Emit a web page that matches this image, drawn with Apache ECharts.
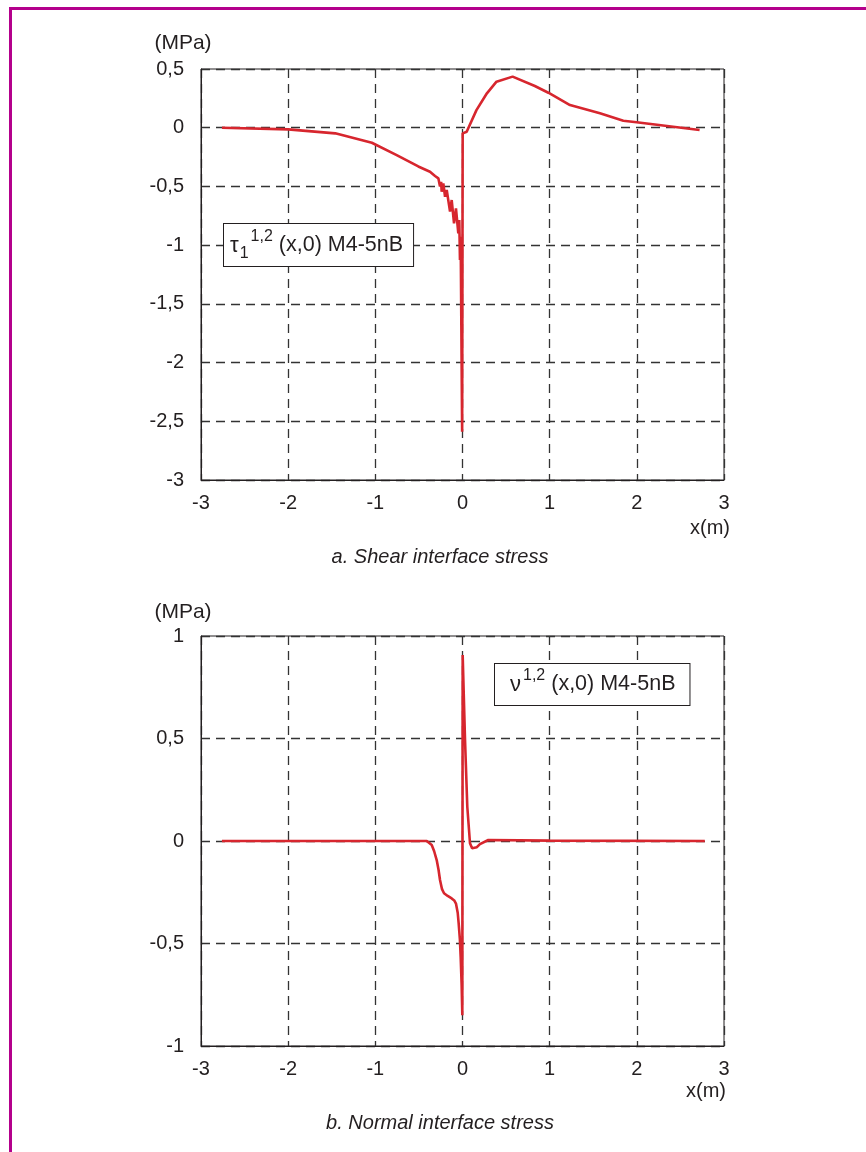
<!DOCTYPE html>
<html>
<head>
<meta charset="utf-8">
<script src="https://cdn.jsdelivr.net/npm/echarts@6/dist/echarts.min.js"></script>
<style>
  html, body { margin: 0; padding: 0; background: #fff; }
  #chart { width: 866px; height: 1152px; }
</style>
</head>
<body>
<div id="chart"></div>
<script>
// Shear interface stress tau_1^{1,2}(x,0), MPa, along x (m)
const shearX = [-2.76, -2.0, -1.46, -1.04, -0.755, -0.507, -0.373, -0.315, -0.277, -0.258, -0.245, -0.239,
  -0.22, -0.2, -0.181, -0.143, -0.124, -0.097, -0.075, -0.048, -0.037, -0.029, -0.021, -0.004,
  0.002, 0.048, 0.16, 0.28, 0.39, 0.575, 0.83, 0.985, 1.233, 1.577, 1.845, 1.997, 2.72];
const shearY = [0.0, -0.014, -0.048, -0.128, -0.233, -0.33, -0.375, -0.411, -0.431, -0.5, -0.46, -0.545,
  -0.474, -0.588, -0.531, -0.715, -0.616, -0.815, -0.687, -0.9, -0.786, -1.127, -0.928, -2.59,
  -0.048, -0.034, 0.15, 0.293, 0.392, 0.435, 0.355, 0.298, 0.193, 0.123, 0.06, 0.046, -0.02];

// Normal interface stress nu^{1,2}(x,0), MPa, along x (m)
const normalX = [-2.76, -0.41, -0.353, -0.325, -0.296, -0.275, -0.258, -0.235, -0.212, -0.17, -0.124,
  -0.095, -0.075, -0.055, -0.044, -0.03, -0.021, -0.01, -0.002, 0.002, 0.029, 0.055, 0.086,
  0.11, 0.132, 0.165, 0.2, 0.296, 1.0, 2.78];
const normalY = [0.0, 0.0, -0.02, -0.05, -0.093, -0.14, -0.19, -0.235, -0.255, -0.268, -0.28,
  -0.29, -0.305, -0.35, -0.402, -0.48, -0.565, -0.7, -0.85, 0.907, 0.493, 0.167, -0.011,
  -0.035, -0.044, -0.03, -0.015, 0.005, 0.002, 0.0];

const xTicks = [-3, -2, -1, 0, 1, 2, 3];

const INK = '#231f20';
const RED = '#d7262e';
const FONT = '"Liberation Sans", Arial, Helvetica, sans-serif';

const pairs = (xs, ys) => xs.map((x, i) => [x, ys[i]]);
const fmt = v => String(v).replace('.', ',');
const GRIDLINE = { color: '#333', width: 1.3, type: [9, 6] };

function xAxis(gridIndex) {
  return {
    type: 'value', gridIndex, min: xTicks[0], max: xTicks[xTicks.length - 1], interval: 1,
    axisLine: { show: true, onZero: false, lineStyle: { color: INK, width: 1 } },
    axisTick: { show: false },
    axisLabel: { color: INK, fontSize: 20, fontFamily: FONT, margin: 13, formatter: fmt },
    splitLine: { show: true, lineStyle: GRIDLINE }
  };
}
function yAxis(gridIndex, min, max) {
  return {
    type: 'value', gridIndex, min, max, interval: 0.5,
    axisLine: { show: true, onZero: false, lineStyle: { color: INK, width: 1 } },
    axisTick: { show: false },
    axisLabel: { color: INK, fontSize: 20, fontFamily: FONT, margin: 17, formatter: fmt },
    splitLine: { show: true, lineStyle: GRIDLINE }
  };
}
function label(x, y, text, extra) {
  return {
    type: 'text', x, y,
    style: Object.assign({ text, fill: INK, font: '21px ' + FONT, align: 'center', verticalAlign: 'middle' }, extra || {})
  };
}

const chart = echarts.init(document.getElementById('chart'), null, { renderer: 'canvas' });
chart.setOption({
  backgroundColor: '#fff',
  animation: false,
  grid: [
    { left: 201, top: 69, width: 523, height: 411, show: true, borderColor: INK, borderWidth: 1, backgroundColor: 'transparent' },
    { left: 201, top: 636, width: 523, height: 410, show: true, borderColor: INK, borderWidth: 1, backgroundColor: 'transparent' }
  ],
  xAxis: [xAxis(0), xAxis(1)],
  yAxis: [yAxis(0, -3, 0.5), yAxis(1, -1, 1)],
  series: [
    { type: 'line', xAxisIndex: 0, yAxisIndex: 0, data: pairs(shearX, shearY), showSymbol: false,
      lineStyle: { color: RED, width: 2.6 }, z: 5 },
    { type: 'line', xAxisIndex: 1, yAxisIndex: 1, data: pairs(normalX, normalY), showSymbol: false,
      lineStyle: { color: RED, width: 2.6 }, z: 5 }
  ],
  graphic: [
    // page frame
    { type: 'rect', shape: { x: 9, y: 7, width: 857, height: 3 }, style: { fill: '#b4008c' } },
    { type: 'rect', shape: { x: 9, y: 7, width: 3, height: 1145 }, style: { fill: '#b4008c' } },

    // axis units
    label(183, 43, '(MPa)'),
    label(710, 528, 'x(m)', { font: '20px ' + FONT }),
    label(183, 612, '(MPa)'),
    label(706, 1091, 'x(m)', { font: '20px ' + FONT }),

    // captions
    label(440, 557, 'a. Shear interface stress', { font: 'italic 20px ' + FONT }),
    label(440, 1123, 'b. Normal interface stress', { font: 'italic 20px ' + FONT }),

    // series annotations
    {
      type: 'text', x: 224, y: 224, z: 10,
      style: {
        text: '{g|τ}{sub|1}{sup|1,2}{t| (x,0) M4-5nB}',
        fill: INK, backgroundColor: '#fff', borderColor: INK, borderWidth: 1,
        padding: [5, 10, 4, 6],
        rich: {
          g: { fontSize: 22, fontFamily: FONT, fill: INK, lineHeight: 33, verticalAlign: 'middle' },
          sub: { fontSize: 16, fontFamily: FONT, fill: INK, lineHeight: 33, verticalAlign: 'bottom', padding: [0, 0, 0, 1] },
          sup: { fontSize: 16, fontFamily: FONT, fill: INK, lineHeight: 33, verticalAlign: 'top', padding: [0, 0, 0, 2] },
          t: { fontSize: 21.5, fontFamily: FONT, fill: INK, lineHeight: 33, verticalAlign: 'middle' }
        }
      }
    },
    {
      type: 'text', x: 495, y: 664, z: 10,
      style: {
        text: '{g|ν}{sup|1,2}{t| (x,0) M4-5nB}',
        fill: INK, backgroundColor: '#fff', borderColor: INK, borderWidth: 1,
        padding: [4, 14, 4, 15],
        rich: {
          g: { fontSize: 22, fontFamily: FONT, fill: INK, lineHeight: 33, verticalAlign: 'middle' },
          sup: { fontSize: 16, fontFamily: FONT, fill: INK, lineHeight: 33, verticalAlign: 'top', padding: [0, 0, 0, 2] },
          t: { fontSize: 21.5, fontFamily: FONT, fill: INK, lineHeight: 33, verticalAlign: 'middle' }
        }
      }
    }
  ]
});
</script>
</body>
</html>
